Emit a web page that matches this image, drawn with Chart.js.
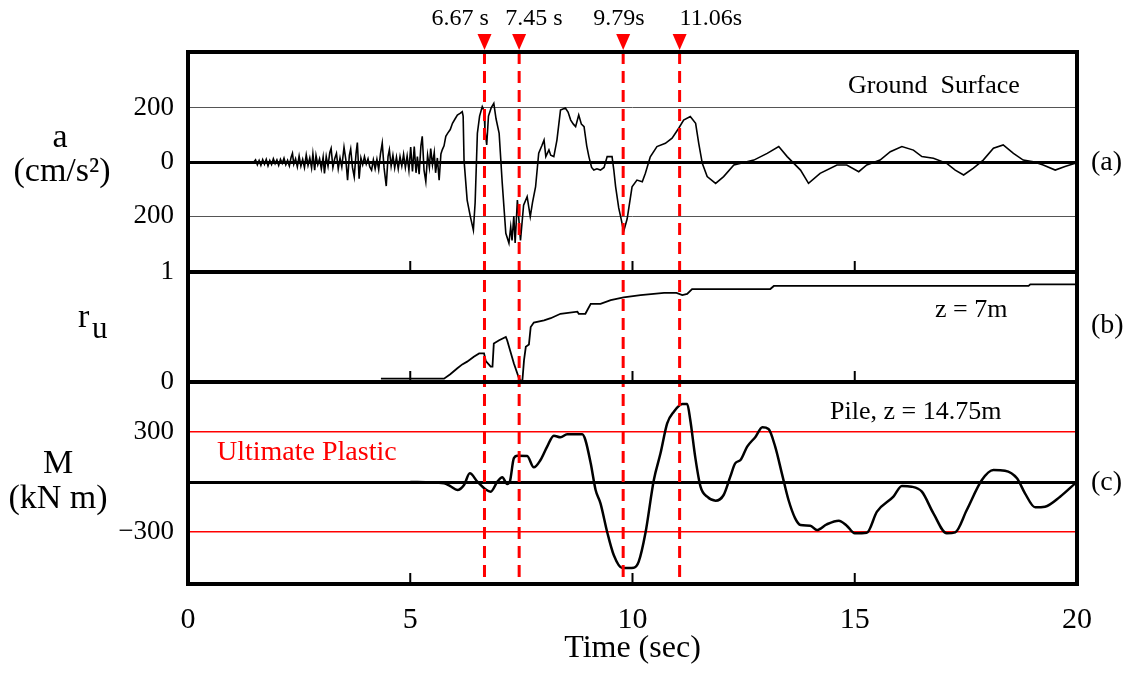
<!DOCTYPE html>
<html><head><meta charset="utf-8">
<script src="https://cdn.jsdelivr.net/npm/chart.js@4.4.1/dist/chart.umd.min.js"></script>
<style>
html,body{margin:0;padding:0;background:#fff;}
#wrap{position:relative;width:1133px;height:679px;overflow:hidden;background:#fff;}
canvas{position:absolute;left:0;top:0;}
</style></head><body>
<div id="wrap">
<canvas id="cA" width="1133" height="679"></canvas>
<canvas id="cB" width="1133" height="679"></canvas>
<canvas id="cC" width="1133" height="679"></canvas>
</div>
<script>
// ---------------- DATA ----------------
const accTime = [
 1.48,1.52,1.56,1.60,1.64,1.68,1.72,1.76,1.80,1.84,
 1.88,1.92,1.96,2.00,2.04,2.08,2.12,2.16,2.20,2.24,
 2.28,2.32,2.35,2.38,2.42,2.46,2.50,2.54,2.58,2.62,
 2.66,2.70,2.74,2.78,2.81,2.85,2.88,2.92,2.96,3.00,
 3.04,3.07,3.11,3.15,3.19,3.22,3.26,3.30,3.34,3.38,
 3.42,3.46,3.51,3.55,3.59,3.63,3.66,3.70,3.74,3.78,
 3.81,3.85,3.89,3.93,3.97,4.01,4.05,4.09,4.13,4.17,
 4.21,4.25,4.29,4.33,4.37,4.41,4.46,4.50,4.53,4.57,
 4.61,4.65,4.69,4.73,4.77,4.81,4.85,4.89,4.93,4.97,
 5.01,5.05,5.09,5.13,5.16,5.20,5.24,5.27,5.31,5.35,
 5.39,5.43,5.46,5.50,5.54,5.57,5.61,5.65,5.69,5.72,
 5.76,5.80,5.84,5.90,5.95,6.01,6.06,6.12,6.17,6.19,
 6.21,6.28,6.35,6.42,6.46,6.51,6.56,6.62,6.66,6.68,
 6.72,6.76,6.82,6.88,6.93,7.00,7.07,7.15,7.22,7.26,
 7.29,7.33,7.36,7.41,7.48,7.55,7.63,7.70,7.75,7.82,
 7.89,7.96,8.01,8.05,8.12,8.16,8.23,8.30,8.38,8.49,
 8.55,8.61,8.67,8.72,8.79,8.85,8.91,8.97,9.02,9.08,
 9.13,9.20,9.28,9.36,9.43,9.54,9.58,9.62,9.69,9.75,
 9.80,9.88,9.99,10.10,10.22,10.29,10.40,10.55,10.74,10.89,
 11.04,11.15,11.30,11.42,11.49,11.57,11.68,11.87,12.05,12.28,
 12.73,13.03,13.29,13.48,13.78,13.96,14.22,14.60,14.82,15.09,
 15.27,15.57,15.80,16.06,16.32,16.51,16.77,17.07,17.26,17.45,
 17.67,17.89,18.12,18.34,18.57,18.79,19.02,19.24,19.51,19.73,
 19.96
];
const accValues = [
 0,8,-10,6,-12,9,-8,10,-14,6,
 -9,12,-6,8,-12,10,-5,14,-10,6,
 -14,18,32,-8,12,-18,22,-15,10,-20,
 26,-12,15,-22,30,-30,24,-10,12,-25,
 18,-42,20,-15,35,50,-20,12,32,-25,
 15,-18,55,10,-67,25,48,-20,-55,30,
 72,-62,15,-10,20,-8,12,-18,-30,8,
 -25,10,-28,30,70,-20,-89,20,45,-15,
 25,-22,18,-25,20,-15,28,-20,22,-30,
 55,-35,57,-40,20,-45,60,95,-30,-72,
 25,-20,50,-10,35,-40,15,-67,30,45,
 60,95,106,120,143,160,174,180,186,170,
 7,-141,-200,-252,-150,106,170,205,190,120,
 63,170,200,217,160,106,-79,-264,-300,-240,
 -290,-200,-300,-141,-290,-160,-128,-202,-150,-91,
 33,60,81,20,45,25,20,81,192,200,
 185,155,140,131,174,140,131,60,19,-20,
 -30,-25,-30,-20,20,20,-30,-91,-170,-215,
 -257,-210,-92,-67,-73,-42,19,57,69,88,
 125,155,168,143,69,-5,-54,-79,-54,-11,
 7,32,57,20,-30,-79,-42,-11,-11,-36,
 -11,7,38,57,44,20,14,-5,-30,-48,
 -23,7,51,63,32,7,1,-11,-30,-17,
 -5
];
const ruTime = [4.34,5.76,5.90,6.06,6.17,6.28,6.43,6.55,6.66,6.70,
 6.81,6.85,6.88,7.00,7.15,7.18,7.33,7.45,7.52,7.56,
 7.60,7.67,7.71,7.78,8.01,8.16,8.38,8.76,8.79,8.94,
 9.06,9.28,9.51,9.80,10.18,10.71,10.99,11.12,11.23,11.34,
 13.10,13.18,18.91,18.95,20.0];
const ruValues = [0.03,0.03,0.07,0.125,0.16,0.185,0.23,0.26,0.26,0.19,
 0.14,0.14,0.35,0.38,0.41,0.38,0.17,0.03,0.0,0.2,
 0.32,0.34,0.50,0.54,0.56,0.58,0.62,0.64,0.62,0.62,
 0.71,0.71,0.745,0.77,0.79,0.81,0.81,0.79,0.80,0.845,
 0.845,0.873,0.873,0.888,0.888];
const momTime = [5.00,5.76,5.90,6.06,6.21,6.34,6.51,6.70,6.81,6.96,
 7.07,7.18,7.24,7.33,7.41,7.63,7.78,7.93,8.08,8.23,
 8.38,8.53,8.87,8.94,9.06,9.17,9.28,9.43,9.58,9.77,
 10.03,10.14,10.29,10.48,10.63,10.78,10.93,11.12,11.23,11.30,
 11.41,11.53,11.68,11.87,12.05,12.20,12.31,12.43,12.58,12.77,
 12.92,13.06,13.21,13.36,13.51,13.66,13.78,14.00,14.15,14.37,
 14.64,14.82,15.00,15.27,15.50,15.87,16.06,16.28,16.51,16.77,
 17.07,17.26,17.52,17.86,18.12,18.38,18.65,18.83,19.06,19.28,
 19.62,19.96];
const momValues = [0,-8,-25,-48,-18,52,2,-45,-58,2,
 28,-12,2,142,158,156,88,132,212,278,
 268,286,286,252,112,-48,-128,-300,-440,-516,
 -514,-478,-308,12,172,352,422,468,468,372,
 152,-28,-88,-112,-78,32,112,132,212,272,
 328,318,212,52,-108,-218,-258,-262,-288,-254,
 -232,-262,-308,-305,-178,-88,-24,-28,-58,-188,
 -308,-302,-168,12,72,68,22,-68,-152,-148,
 -88,-8];
const accTicks = [-200, 0, 200];
const ruTicks = [0, 1];
const momTicks = [-300, 0, 300];
const timeTicks = [0, 5, 10, 15, 20];
const innerTickTimes = [5, 10, 15];
const markerTimes = [6.67, 7.45, 9.79, 11.06];
const markerLabels = ['6.67 s', '7.45 s', '9.79s', '11.06s'];

// ---------------- LAYOUT / STYLE ----------------
const FONT = '"Liberation Serif", "Times New Roman", serif';
const W = 1133, H = 679;
const AXIS_W = 188, RIGHT_PAD = 56;
const markerLabelDx = [-53, -14, -30, 0];

function pts(t, v) { return t.map((x, i) => ({ x: x, y: v[i] })); }

function makeChart(id, cfg) {
  return new Chart(document.getElementById(id), {
    type: 'line',
    data: { datasets: [{
      data: cfg.data, borderColor: '#000', borderWidth: cfg.lw,
      pointRadius: 0, fill: false, tension: cfg.tension || 0,
      cubicInterpolationMode: cfg.tension ? 'monotone' : 'default'
    }]},
    options: {
      responsive: false, animation: false, devicePixelRatio: 1,
      layout: { padding: { top: cfg.padTop, bottom: cfg.padBottom, left: 0, right: RIGHT_PAD } },
      plugins: { legend: { display: false }, tooltip: { enabled: false } },
      scales: {
        x: Object.assign({
          type: 'linear', min: 0, max: 20, display: !!cfg.showX,
          afterBuildTicks: s => { s.ticks = timeTicks.map(v => ({ value: v })); },
          grid: { display: false, drawTicks: false },
          border: { display: false },
          ticks: { font: { family: FONT, size: 30 }, color: '#000', padding: 18, maxRotation: 0, autoSkip: false },
          title: { display: true, text: 'Time (sec)', color: '#000',
                   font: { family: FONT, size: 32, lineHeight: 1 }, padding: { top: 0, bottom: 14 } }
        }, cfg.showX ? { afterFit: s => { s.height = 95; } } : {}),
        y: {
          type: 'linear', min: cfg.yMin, max: cfg.yMax,
          afterFit: s => { s.width = AXIS_W; },
          afterBuildTicks: s => { s.ticks = cfg.ticks.map(v => ({ value: v })); },
          ticks: { callback: cfg.label, font: { family: FONT, size: 27 }, color: '#000', padding: 14, autoSkip: false },
          grid: { display: cfg.grid !== false, drawTicks: false,
                  color: c => cfg.gridColor(c.tick ? c.tick.value : 0),
                  lineWidth: c => cfg.gridWidth(c.tick ? c.tick.value : 0) },
          border: { display: false }
        }
      }
    },
    plugins: cfg.plugins || []
  });
}

const chartA = makeChart('cA', {
  data: pts(accTime, accValues), lw: 1.6,
  padTop: 52, padBottom: H - 272, yMin: -407, yMax: 407, ticks: accTicks,
  label: v => String(Math.abs(v)),
  gridColor: v => v === 0 ? '#000' : '#555',
  gridWidth: v => v === 0 ? 3 : 1
});
const chartB = makeChart('cB', {
  data: pts(ruTime, ruValues), lw: 1.8,
  padTop: 272, padBottom: H - 382, yMin: 0, yMax: 1, ticks: ruTicks,
  label: v => String(v), grid: false,
  gridColor: v => '#000', gridWidth: v => 0
});

const overlay = {
  id: 'overlay',
  afterDraw(chart) {
    const ctx = chart.ctx, xs = chart.scales.x;
    const A = chartA.chartArea, B = chartB.chartArea, C = chart.chartArea;
    ctx.save();
    // red dashed marker lines and triangles
    markerTimes.forEach((t, i) => {
      const x = xs.getPixelForValue(t);
      ctx.strokeStyle = '#ff0000'; ctx.lineWidth = 3; ctx.setLineDash([12, 7]);
      ctx.beginPath(); ctx.moveTo(x, A.top); ctx.lineTo(x, C.bottom); ctx.stroke();
      ctx.setLineDash([]);
      ctx.fillStyle = '#ff0000';
      ctx.beginPath(); ctx.moveTo(x - 7, A.top - 18); ctx.lineTo(x + 7, A.top - 18); ctx.lineTo(x, A.top - 2); ctx.closePath(); ctx.fill();
      ctx.fillStyle = '#000'; ctx.font = '24px ' + FONT; ctx.textAlign = 'left'; ctx.textBaseline = 'alphabetic';
      ctx.fillText(markerLabels[i], x + markerLabelDx[i], A.top - 27);
    });
    // frame
    ctx.strokeStyle = '#000'; ctx.lineWidth = 4;
    ctx.strokeRect(C.left, A.top, C.right - C.left, C.bottom - A.top);
    [A.bottom, B.bottom].forEach(y => { ctx.beginPath(); ctx.moveTo(C.left, y); ctx.lineTo(C.right, y); ctx.stroke(); });
    // inner ticks
    ctx.lineWidth = 2;
    innerTickTimes.forEach(t => {
      const x = xs.getPixelForValue(t);
      [A.bottom, B.bottom, C.bottom].forEach(y => { ctx.beginPath(); ctx.moveTo(x, y - 2); ctx.lineTo(x, y - 11); ctx.stroke(); });
    });
    // texts
    ctx.fillStyle = '#000'; ctx.textBaseline = 'alphabetic';
    ctx.font = '26px ' + FONT; ctx.textAlign = 'left';
    ctx.fillText('Ground  Surface', 848, 93);
    ctx.fillText('z = 7m', 935, 317);
    ctx.fillText('Pile, z = 14.75m', 830, 419);
    ctx.fillStyle = '#ff0000'; ctx.font = '28px ' + FONT;
    ctx.fillText('Ultimate Plastic', 217, 460);
    ctx.fillStyle = '#000';
    ctx.font = '28px ' + FONT; ctx.textBaseline = 'middle';
    ctx.fillText('(a)', 1091, 163);
    ctx.fillText('(b)', 1091, 326);
    ctx.fillText('(c)', 1091, 483);
    ctx.textBaseline = 'alphabetic'; ctx.textAlign = 'center'; ctx.font = '34px ' + FONT;
    ctx.fillText('a', 60, 147);
    ctx.fillText('(cm/s\u00B2)', 62, 181);
    ctx.fillText('M', 58, 473);
    ctx.fillText('(kN m)', 58, 508);
    ctx.textAlign = 'left';
    ctx.fillText('r', 78, 327);
    ctx.font = '31px ' + FONT;
    ctx.fillText('u', 92, 338);
    ctx.restore();
  }
};

const chartC = makeChart('cC', {
  data: pts(momTime, momValues), lw: 2.5, tension: 0.4, showX: true,
  padTop: 382, padBottom: 0, yMin: -612, yMax: 600, ticks: momTicks,
  label: v => v === 0 ? '' : (v < 0 ? '\u2212' + Math.abs(v) : String(v)),
  gridColor: v => v === 0 ? '#000' : '#ff0000',
  gridWidth: v => v === 0 ? 3 : 1.5,
  plugins: [overlay]
});
</script>
</body></html>
